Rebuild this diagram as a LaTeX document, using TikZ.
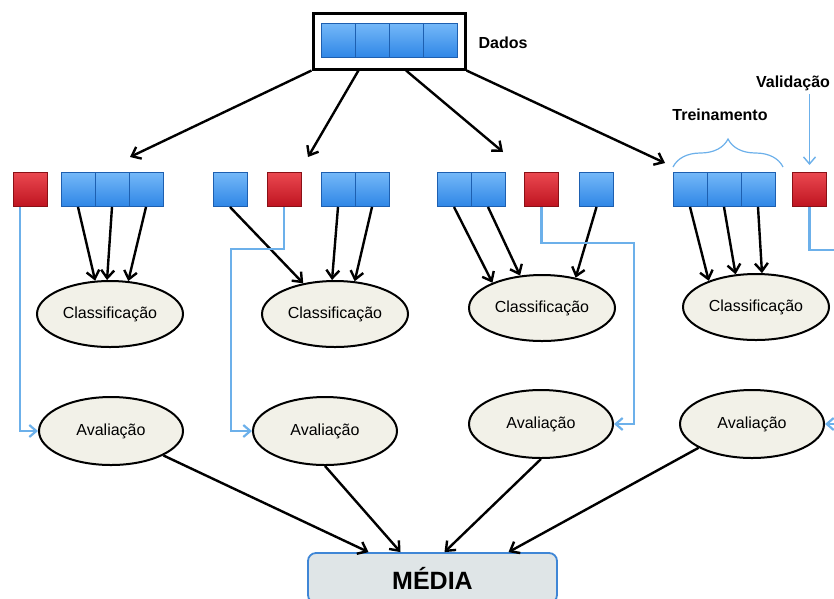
\documentclass[tikz,border=0pt]{standalone}
\usepackage{fontspec}
\setmainfont{Liberation Sans}
\usepackage{tikz}
\usetikzlibrary{arrows.meta,positioning,calc,decorations.pathreplacing,shapes.geometric}
\usepackage{xcolor}
\definecolor{celltop}{HTML}{74B8F8}
\definecolor{cellbot}{HTML}{2F86E6}
\definecolor{celledge}{HTML}{1D5FB0}
\definecolor{redtop}{HTML}{EA4850}
\definecolor{redbot}{HTML}{BF1420}
\definecolor{rededge}{HTML}{8A1016}
\definecolor{procfill}{HTML}{F2F1E8}
\definecolor{lineblue}{HTML}{6CB0EA}
\definecolor{mediafill}{HTML}{DFE5E7}
\definecolor{mediaedge}{HTML}{3F86D6}
\tikzset{
  bcell/.style = {draw=celledge, line width=1pt, top color=celltop,
                  bottom color=cellbot, minimum size=34pt, inner sep=0pt},
  rcell/.style = {draw=rededge, line width=1pt, top color=redtop,
                  bottom color=redbot, minimum size=34pt, inner sep=0pt},
  proc/.style  = {draw, ellipse, line width=2pt, fill=procfill,
                  minimum width=146pt, minimum height=66pt, inner sep=0pt},
  sig/.style   = {-{Straight Barb[length=8pt,width=13pt]}, line width=2.4pt},
  valid/.style = {-{Straight Barb[length=7pt,width=12pt]}, line width=2.2pt,
                  draw=lineblue},
  lbl/.style   = {font=\fontsize{16}{19}\selectfont\bfseries},
}

\begin{document}
\begin{tikzpicture}[x=1pt,y=-1pt,font=\fontsize{16}{19}\selectfont]
\useasboundingbox (0,0) rectangle (834,598);
\clip (0,0) rectangle (834,598);

% dados
\node[draw, line width=3pt, minimum width=152pt, minimum height=56pt] (dados) at (389,41) {};
\foreach \i in {0,...,3} \node[bcell] (d\i) at ({338+34*\i},40.5) {};
\node[lbl] (dlab) at (503,43) {Dados};

% folds
\node[rcell] (r1) at (30,189.5) {};
\foreach \x [count=\i] in {78,112,146} \node[bcell] (a\i) at (\x,189.5) {};
\node[bcell] (b1) at (230,189.5) {};
\node[rcell] (r2) at (284,189.5) {};
\foreach \x [count=\i from 2] in {338,372} \node[bcell] (b\i) at (\x,189.5) {};
\foreach \x [count=\i] in {454,488} \node[bcell] (c\i) at (\x,189.5) {};
\node[rcell] (r3) at (541.5,189.5) {};
\node[bcell] (c3) at (596.5,189.5) {};
\foreach \x [count=\i] in {690,724,758} \node[bcell] (e\i) at (\x,189.5) {};
\node[rcell] (r4) at (809.5,189.5) {};

\node[lbl] (tlab) at (720,115) {Treinamento};
\node[lbl] (vlab) at (793,83) {Validação};
\draw[lineblue, line width=1.2pt, decorate, decoration={brace, amplitude=28pt}]
  (673,167) -- (783,167);
\draw[valid, line width=1.4pt] (vlab.south -| r4) -- ([yshift=7pt]r4.north);

\node[proc] (cl1) at (110,314) {Classificação};
\node[proc] (cl2) at (335,314) {Classificação};
\node[proc] (cl3) at (542,308) {Classificação};
\node[proc] (cl4) at (756,307) {Classificação};
\node[proc, minimum width=144pt, minimum height=68pt] (av1) at (111,431) {Avaliação};
\node[proc, minimum width=144pt, minimum height=68pt] (av2) at (325,431) {Avaliação};
\node[proc, minimum width=144pt, minimum height=68pt] (av3) at (541,424) {Avaliação};
\node[proc, minimum width=144pt, minimum height=68pt] (av4) at (752,424) {Avaliação};

\node[draw=mediaedge, fill=mediafill, line width=1.8pt, rounded corners=8pt,
      minimum width=249pt, minimum height=50pt,
      font=\fontsize{25}{30}\selectfont\bfseries] (media) at (432.5,578) {MÉDIA};

\coordinate (t1) at (130,157);
\coordinate (t2) at (308,157);
\coordinate (t3) at (503,152);
\coordinate (t4) at (665,163);
\draw[sig] (dados.south west) -- (t1);
\draw[sig] (dados.-136) -- (t2);
\draw[sig] (dados.-60) -- (t3);
\draw[sig] (dados.south east) -- (t4);

\draw[sig] (a1.south) -- (cl1.114);
\draw[sig] (a2.south) -- (cl1.95);
\draw[sig] (a3.south) -- (cl1.61);
\draw[sig] (b1.south) -- (cl2.136);
\draw[sig] (b2.south) -- (cl2.95);
\draw[sig] (b3.south) -- (cl2.59);
\draw[sig] (c1.south) -- (cl3.153);
\draw[sig] (c2.south) -- (cl3.124);
\draw[sig] (c3.south) -- (cl3.42);
\draw[sig] (e1.south) -- (cl4.151);
\draw[sig] (e2.south) -- (cl4.122);
\draw[sig] (e3.south) -- (cl4.80);

\draw[valid] ([xshift=-10pt]r1.south) |- (av1.west);
\draw[valid] (r2.south) -- ++(0,42) -| ([xshift=-21pt]av2.west) -- (av2.west);
\draw[valid] (r3.south) -- ++(0,36) -| ([xshift=20pt]av3.east) -- (av3.east);
\draw[valid] (r4.south) -- ++(0,43) -| ([xshift=20pt]av4.east) -- (av4.east);

\draw[sig] (av1.-25) -- ([xshift=-64pt]media.north);
\draw[sig] (av2.south) -- ([xshift=-32pt]media.north);
\draw[sig] (av3.south) -- ([xshift=12pt]media.north);
\draw[sig] (av4.-156) -- ([xshift=76pt]media.north);
\end{tikzpicture}
\end{document}
